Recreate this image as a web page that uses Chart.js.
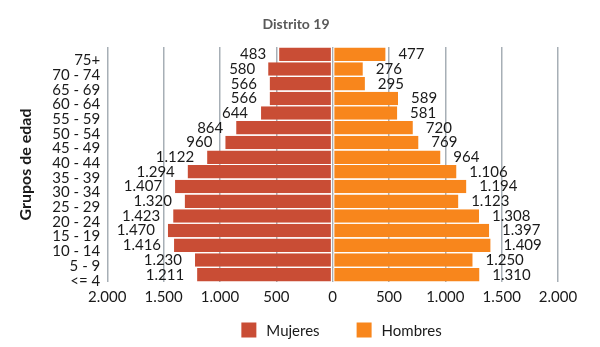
<!DOCTYPE html>
<html>
<head>
<meta charset="utf-8">
<script src="https://cdn.jsdelivr.net/npm/chart.js@4"></script>
<style>
  html, body { margin: 0; padding: 0; background: #fff; }
  #wrap { width: 600px; height: 347px; position: relative; }
</style>
</head>
<body>
<div id="wrap"><canvas id="c"></canvas></div>
<script>
const categories = ['75+', '70 - 74', '65 - 69', '60 - 64', '55 - 59', '50 - 54', '45 - 49', '40 - 44', '35 - 39', '30 - 34', '25 - 29', '20 - 24', '15 - 19', '10 - 14', '5 - 9', '<= 4'];
const mujeres = [483, 580, 566, 566, 644, 864, 960, 1122, 1294, 1407, 1320, 1423, 1470, 1416, 1230, 1211];
const hombres = [477, 276, 295, 589, 581, 720, 769, 964, 1106, 1194, 1123, 1308, 1397, 1409, 1250, 1310];
const seriesNames = ['Mujeres', 'Hombres'];
const seriesColors = ['#C94D35', '#F8861C'];
const chartTitle = 'Distrito 19';
const axisMin = -2000, axisMax = 2000, axisStep = 500;

const FONT = 'Lato';
const TEXT = '#1a1a1a';
function fmt(v) {
  return String(Math.round(Math.abs(v))).replace(/\B(?=(\d{3})+(?!\d))/g, '.');
}

const labelPlugin = {
  id: 'barLabels',
  afterDatasetsDraw(chart) {
    const ctx = chart.ctx;
    ctx.save();
    ctx.font = '15px ' + FONT;
    ctx.fillStyle = TEXT;
    ctx.textBaseline = 'middle';
    chart.data.datasets.forEach((ds, di) => {
      const meta = chart.getDatasetMeta(di);
      meta.data.forEach((bar, i) => {
        const v = ds.data[i];
        if (v < 0) {
          ctx.textAlign = 'right';
          ctx.fillText(fmt(v), bar.x - 12, bar.y);
        } else {
          ctx.textAlign = 'left';
          ctx.fillText(fmt(v), bar.x + 12, bar.y);
        }
      });
    });
    ctx.restore();
  }
};

const decorPlugin = {
  id: 'decor',
  afterDraw(chart) {
    const ctx = chart.ctx;
    ctx.save();
    // title
    ctx.font = 'bold 14px ' + FONT;
    ctx.fillStyle = '#595959';
    ctx.textAlign = 'center';
    ctx.textBaseline = 'middle';
    ctx.fillText(chartTitle, 296, 24);
    // legend
    ctx.font = '15px ' + FONT;
    ctx.textAlign = 'left';
    const box = 15, gapText = 10, gapItem = 37;
    const widths = seriesNames.map(n => box + gapText + ctx.measureText(n).width);
    const total = widths.reduce((a, b) => a + b, 0) + gapItem * (widths.length - 1);
    let x = 341.5 - total / 2;
    const yMid = 330;
    seriesNames.forEach((n, i) => {
      ctx.fillStyle = seriesColors[i];
      ctx.fillRect(x, yMid - box / 2, box, box);
      ctx.fillStyle = TEXT;
      ctx.fillText(n, x + box + gapText, yMid + 1);
      x += widths[i] + gapItem;
    });
    ctx.restore();
  }
};

new Chart(document.getElementById('c'), {
  type: 'bar',
  data: {
    labels: categories,
    datasets: seriesNames.map((name, k) => ({
      label: name,
      data: k === 0 ? mujeres.map(v => -v) : hombres,
      backgroundColor: seriesColors[k],
      borderColor: '#ffffff',
      borderWidth: { left: 1, right: 1, top: 0, bottom: 0 },
      borderSkipped: false,
      barPercentage: 0.92,
      categoryPercentage: 1
    }))
  },
  options: {
    indexAxis: 'y',
    responsive: true,
    maintainAspectRatio: false,
    animation: false,
    layout: { padding: { left: 16, right: 42, top: 47, bottom: 35 } },
    plugins: {
      title: { display: false },
      legend: { display: false },
      tooltip: { enabled: false }
    },
    scales: {
      x: {
        stacked: true,
        min: axisMin, max: axisMax,
        ticks: { stepSize: axisStep, callback: v => fmt(v), color: TEXT, font: { family: FONT, size: 15 }, padding: 6 },
        grid: { color: '#A7AFB6', lineWidth: 1.5, drawTicks: false },
        border: { display: false }
      },
      y: {
        stacked: true,
        ticks: { color: TEXT, font: { family: FONT, size: 15 }, labelOffset: 6, padding: 7, autoSkip: false },
        grid: { display: false, drawTicks: false },
        border: { display: false },
        title: { display: true, text: 'Grupos de edad', color: TEXT, font: { family: FONT, size: 16, weight: 'bold' }, padding: { top: 0, bottom: 10 } }
      }
    }
  },
  plugins: [labelPlugin, decorPlugin]
});
</script>
</body>
</html>
